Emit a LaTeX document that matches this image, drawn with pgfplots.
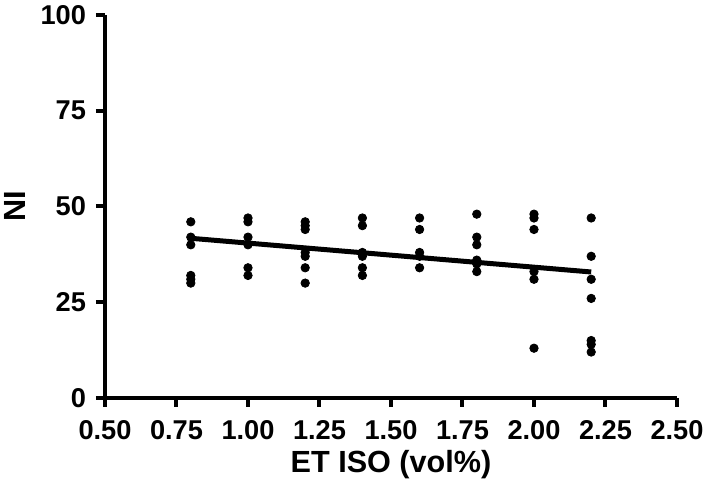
\documentclass[border=0pt]{standalone}
\usepackage{fontspec}
\setmainfont{Liberation Sans}
\usepackage{pgfplots}
\pgfplotsset{compat=1.18}
\begin{document}
\begin{tikzpicture}
\path[use as bounding box] (-52.5pt,-47.5pt) rectangle (302pt,199pt);
\begin{axis}[
  at={(0pt,0pt)}, anchor=origin,
  scale only axis,
  width=286pt, height=191.5pt,
  xmin=0.5, xmax=2.5, ymin=0, ymax=100,
  axis lines=left,
  axis line style={line width=2pt, -},
  every tick/.style={line width=2pt, black},
  tick align=outside,
  major tick length=4.5pt,
  xtick={0.5,0.75,...,2.5},
  ytick={0,25,50,75,100},
  /pgf/number format/assume math mode=true,
  xticklabel style={/pgf/number format/fixed, /pgf/number format/fixed zerofill, /pgf/number format/precision=2, yshift=-2.5pt, text height=10pt, text depth=0pt},
  yticklabel style={xshift=-1.5pt},
  ticklabel style={font=\fontsize{13.6}{15}\selectfont\bfseries},
  label style={font=\fontsize{15.3}{17}\selectfont\bfseries},
  xlabel={ET ISO (vol\%)},
  ylabel={NI},
  xlabel style={at={(axis description cs:0.5,-0.175)}, anchor=center},
  ylabel style={at={(axis description cs:-0.157,0.5)}, anchor=center},
  clip=false,
]
\addplot[only marks, mark=*, mark size=2.1pt, black] coordinates {
  (0.8,46) (0.8,42) (0.8,40) (0.8,32) (0.8,31) (0.8,30)
  (1.0,47) (1.0,46) (1.0,42) (1.0,40) (1.0,34) (1.0,32)
  (1.2,46) (1.2,45) (1.2,44) (1.2,38) (1.2,37) (1.2,34) (1.2,30)
  (1.4,47) (1.4,45) (1.4,38) (1.4,37) (1.4,34) (1.4,32)
  (1.6,47) (1.6,44) (1.6,38) (1.6,37) (1.6,34)
  (1.8,48) (1.8,42) (1.8,40) (1.8,36) (1.8,35) (1.8,33)
  (2.0,48) (2.0,47) (2.0,44) (2.0,33) (2.0,31) (2.0,13)
  (2.2,47) (2.2,37) (2.2,31) (2.2,26) (2.2,15) (2.2,14) (2.2,12)
};
\addplot[black, line width=2.5pt] coordinates {(0.8,41.7) (2.2,32.9)};
\end{axis}
\end{tikzpicture}
\end{document}
